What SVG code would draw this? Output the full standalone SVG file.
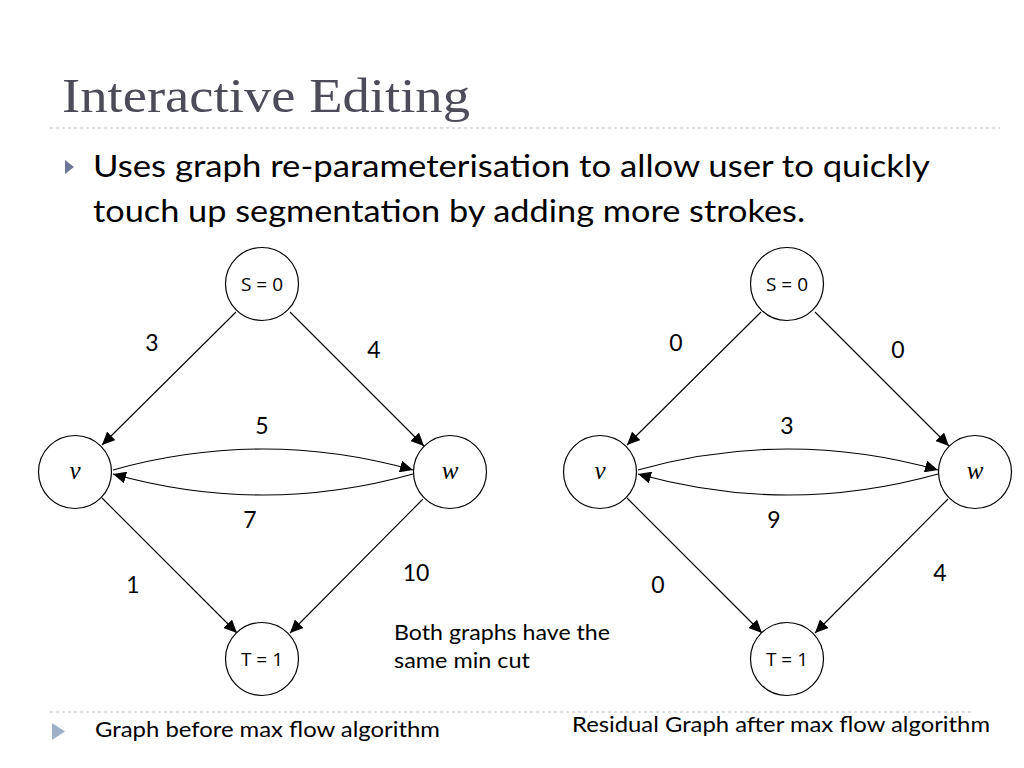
<svg xmlns="http://www.w3.org/2000/svg" width="1024" height="768" viewBox="0 0 1024 768">
<defs>
<marker id="arr" markerUnits="userSpaceOnUse" markerWidth="14" markerHeight="12" refX="13" refY="6" orient="auto">
<path d="M0,0 L13,6 L0,12 z" fill="#000"/>
</marker>
<style>
.title{font-family:"Liberation Serif",serif;font-size:48px;fill:#4b4b5a}
.body{font-family:Lato,"Open Sans",sans-serif;fill:#000}
.node circle{fill:#fff;stroke:#000;stroke-width:1.2}
.nl{font-family:"Open Sans","Noto Sans",sans-serif;font-size:19px;text-anchor:middle;fill:#000}
.var{font-family:"Liberation Serif",serif;font-style:italic;font-size:25px;text-anchor:middle;fill:#000}
.edge{fill:none;stroke:#000;stroke-width:1.1;marker-end:url(#arr)}
.el{font-family:Lato,"Open Sans",sans-serif;font-size:23px;text-anchor:middle;fill:#000}
.dash{stroke:#b8bcc6;stroke-width:1.2;stroke-dasharray:3,3}
</style>
</defs>
<rect width="1024" height="768" fill="#fff"/>
<text class="title" x="62" y="112" textLength="408" lengthAdjust="spacingAndGlyphs">Interactive Editing</text>
<line class="dash" x1="50" y1="128" x2="1000" y2="128"/>
<path d="M65,160 L74,167 L65,174 z" fill="#6b7897"/>
<text class="body" x="93" y="177" font-size="30" textLength="837" lengthAdjust="spacingAndGlyphs">Uses graph re-parameterisation to allow user to quickly</text>
<text class="body" x="93" y="222" font-size="30" textLength="712" lengthAdjust="spacingAndGlyphs">touch up segmentation by adding more strokes.</text>

<g id="connectors">
<line class="edge" x1="236" y1="312" x2="102" y2="445"/>
<line class="edge" x1="290" y1="312" x2="424" y2="446"/>
<path class="edge" d="M113,470 Q263,428 413,470"/>
<path class="edge" d="M413,474 Q263,516 113,474"/>
<line class="edge" x1="102" y1="498" x2="237" y2="633"/>
<line class="edge" x1="423" y1="499" x2="290" y2="633"/>
<line class="edge" x1="761" y1="312" x2="627" y2="445"/>
<line class="edge" x1="815" y1="312" x2="949" y2="446"/>
<path class="edge" d="M638,470 Q788,428 938,470"/>
<path class="edge" d="M938,474 Q788,516 638,474"/>
<line class="edge" x1="627" y1="498" x2="762" y2="633"/>
<line class="edge" x1="948" y1="499" x2="815" y2="633"/>
</g>

<g id="edge-labels">
<text class="el" x="152" y="351">3</text>
<text class="el" x="374" y="358">4</text>
<text class="el" x="262" y="434">5</text>
<text class="el" x="250" y="528">7</text>
<text class="el" x="133" y="593">1</text>
<text class="el" x="416" y="581">10</text>
<text class="el" x="676" y="351">0</text>
<text class="el" x="898" y="358">0</text>
<text class="el" x="787" y="434">3</text>
<text class="el" x="774" y="528">9</text>
<text class="el" x="658" y="593">0</text>
<text class="el" x="940" y="581">4</text>
</g>

<g id="S1" class="node"><circle cx="262" cy="284" r="36.5"/><text class="nl" x="262" y="291">S = 0</text></g>
<g id="v1" class="node"><circle cx="75" cy="472" r="36.5"/><text class="var" x="75" y="479">v</text></g>
<g id="w1" class="node"><circle cx="450" cy="472" r="36.5"/><text class="var" x="450" y="479">w</text></g>
<g id="T1" class="node"><circle cx="262" cy="659" r="36.5"/><text class="nl" x="262" y="666">T = 1</text></g>

<g id="S2" class="node"><circle cx="787" cy="284" r="36.5"/><text class="nl" x="787" y="291">S = 0</text></g>
<g id="v2" class="node"><circle cx="600" cy="472" r="36.5"/><text class="var" x="600" y="479">v</text></g>
<g id="w2" class="node"><circle cx="975" cy="472" r="36.5"/><text class="var" x="975" y="479">w</text></g>
<g id="T2" class="node"><circle cx="787" cy="659" r="36.5"/><text class="nl" x="787" y="666">T = 1</text></g>

<text class="body" x="394" y="640" font-size="21" textLength="216" lengthAdjust="spacingAndGlyphs">Both graphs have the</text>
<text class="body" x="394" y="668" font-size="21" textLength="136" lengthAdjust="spacingAndGlyphs">same min cut</text>

<line class="dash" x1="50" y1="712" x2="973" y2="712"/>
<path d="M52,723 L65,731.5 L52,740 z" fill="#9db0c8"/>
<text class="body" x="95" y="737" font-size="21" textLength="345" lengthAdjust="spacingAndGlyphs">Graph before max flow algorithm</text>
<text class="body" x="572" y="732" font-size="21" textLength="418" lengthAdjust="spacingAndGlyphs">Residual Graph after max flow algorithm</text>
</svg>
